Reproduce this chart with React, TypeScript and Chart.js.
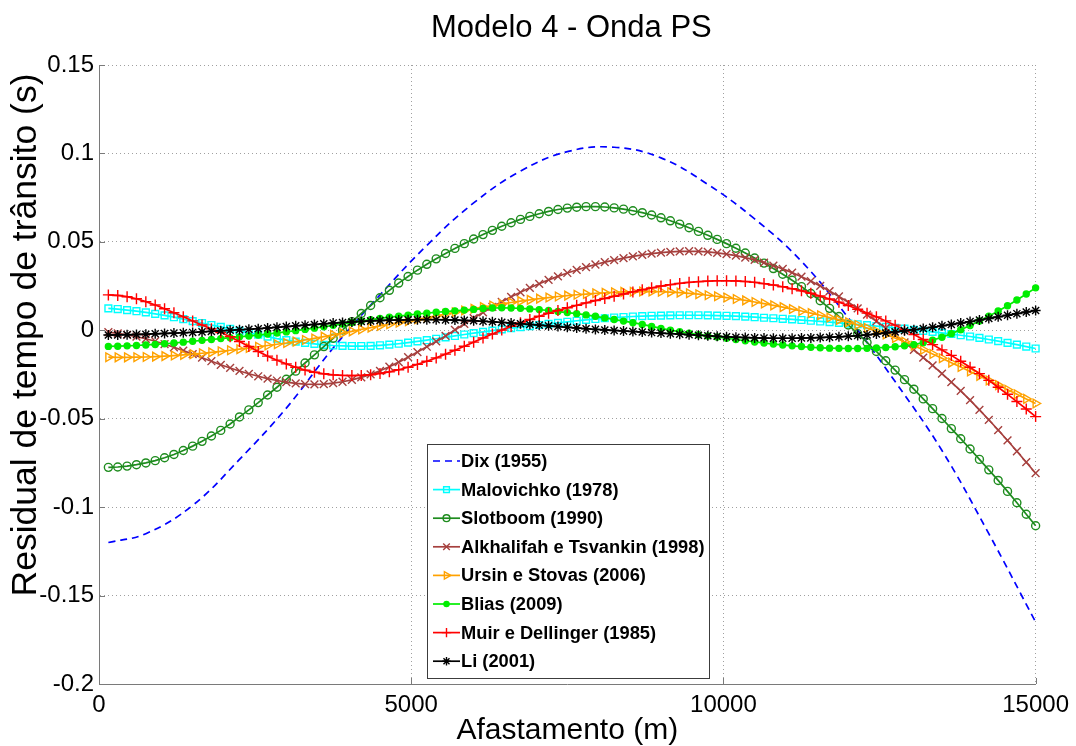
import React, { useEffect, useRef } from 'react';
import { Chart, registerables } from 'chart.js';

Chart.register(...registerables);

const TITLE = 'Modelo 4 - Onda PS';
const X_TITLE = 'Afastamento (m)';
const Y_TITLE = 'Residual de tempo de trânsito (s)';

const X_TICKS = [0, 5000, 10000, 15000];
const X_TICK_LABELS = ['0', '5000', '10000', '15000'];
const Y_TICKS = [-0.2, -0.15, -0.1, -0.05, 0, 0.05, 0.1, 0.15];
const Y_TICK_LABELS = ['-0.2', '-0.15', '-0.1', '-0.05', '0', '0.05', '0.1', '0.15'];

const LABELS = [
  'Dix (1955)',
  'Malovichko (1978)',
  'Slotboom (1990)',
  'Alkhalifah e Tsvankin (1998)',
  'Ursin e Stovas (2006)',
  'Blias (2009)',
  'Muir e Dellinger (1985)',
  'Li (2001)',
];

// offsets (m): 150, 300, ... 15000 (sampling grid of the marker curves)
const OFFSETS = Array.from({ length: 100 }, (_, i) => 150 * (i + 1));

const DIX_OFFSETS = [150, 750, 1500, 2250, 3000, 3750, 4500, 5250, 6000, 6750, 7500,
  8250, 9000, 9750, 10500, 11250, 12000, 12750, 13500, 14250, 15000];
const DIX = [-0.1200, -0.1150, -0.0990, -0.0730, -0.0440, -0.0100, 0.0200, 0.0480, 0.0720, 0.0900, 0.1010,
  0.1035, 0.0975, 0.0825, 0.0630, 0.0390, 0.0070, -0.0290, -0.0680, -0.1150, -0.1650];

const MALOVICHKO = [
  0.0124, 0.0120, 0.0114, 0.0108, 0.0101, 0.0093, 0.0084, 0.0074, 0.0063, 0.0052,
  0.0041, 0.0030, 0.0019, 0.0008, -0.0003, -0.0014, -0.0025, -0.0036, -0.0047, -0.0056,
  -0.0064, -0.0071, -0.0077, -0.0082, -0.0086, -0.0088, -0.0089, -0.0089, -0.0088, -0.0085,
  -0.0081, -0.0076, -0.0070, -0.0063, -0.0056, -0.0048, -0.0040, -0.0032, -0.0024, -0.0016,
  -0.0009, -0.0002, 0.0005, 0.0012, 0.0018, 0.0024, 0.0030, 0.0036, 0.0042, 0.0048,
  0.0054, 0.0059, 0.0064, 0.0068, 0.0072, 0.0075, 0.0078, 0.0080, 0.0082, 0.0083,
  0.0084, 0.0085, 0.0085, 0.0085, 0.0084, 0.0083, 0.0082, 0.0080, 0.0077, 0.0074,
  0.0071, 0.0068, 0.0065, 0.0062, 0.0058, 0.0054, 0.0050, 0.0046, 0.0042, 0.0038,
  0.0034, 0.0029, 0.0024, 0.0019, 0.0014, 0.0009, 0.0003, -0.0003, -0.0009, -0.0015,
  -0.0021, -0.0028, -0.0035, -0.0043, -0.0052, -0.0061, -0.0071, -0.0081, -0.0092, -0.0103,
];

const SLOTBOOM = [
  -0.0775, -0.0773, -0.0768, -0.0760, -0.0750, -0.0737, -0.0721, -0.0702, -0.0680, -0.0655,
  -0.0628, -0.0598, -0.0566, -0.0530, -0.0490, -0.0450, -0.0409, -0.0366, -0.0322, -0.0277,
  -0.0231, -0.0185, -0.0139, -0.0092, -0.0045, 0.0002, 0.0049, 0.0095, 0.0140, 0.0184,
  0.0226, 0.0267, 0.0304, 0.0340, 0.0373, 0.0404, 0.0434, 0.0463, 0.0490, 0.0516,
  0.0541, 0.0565, 0.0588, 0.0608, 0.0627, 0.0644, 0.0659, 0.0672, 0.0683, 0.0691,
  0.0696, 0.0699, 0.0699, 0.0697, 0.0692, 0.0685, 0.0676, 0.0665, 0.0652, 0.0636,
  0.0619, 0.0600, 0.0580, 0.0559, 0.0537, 0.0514, 0.0490, 0.0464, 0.0437, 0.0409,
  0.0380, 0.0349, 0.0317, 0.0283, 0.0247, 0.0208, 0.0167, 0.0124, 0.0078, 0.0030,
  -0.0019, -0.0069, -0.0120, -0.0172, -0.0225, -0.0279, -0.0333, -0.0388, -0.0443, -0.0499,
  -0.0556, -0.0613, -0.0671, -0.0730, -0.0789, -0.0849, -0.0911, -0.0975, -0.1040, -0.1105,
];

const ALKHALIFAH = [
  -0.0010, -0.0017, -0.0026, -0.0036, -0.0048, -0.0062, -0.0078, -0.0096, -0.0115, -0.0135,
  -0.0155, -0.0175, -0.0195, -0.0213, -0.0230, -0.0246, -0.0260, -0.0273, -0.0284, -0.0293,
  -0.0300, -0.0304, -0.0306, -0.0304, -0.0299, -0.0291, -0.0280, -0.0266, -0.0249, -0.0229,
  -0.0206, -0.0180, -0.0152, -0.0123, -0.0093, -0.0063, -0.0032, 0.0002, 0.0036, 0.0069,
  0.0101, 0.0132, 0.0161, 0.0189, 0.0215, 0.0240, 0.0263, 0.0285, 0.0305, 0.0324,
  0.0341, 0.0357, 0.0372, 0.0385, 0.0397, 0.0408, 0.0418, 0.0426, 0.0433, 0.0439,
  0.0443, 0.0446, 0.0447, 0.0446, 0.0443, 0.0438, 0.0431, 0.0422, 0.0411, 0.0398,
  0.0383, 0.0366, 0.0347, 0.0326, 0.0303, 0.0278, 0.0251, 0.0222, 0.0191, 0.0158,
  0.0124, 0.0088, 0.0051, 0.0012, -0.0028, -0.0069, -0.0111, -0.0154, -0.0198, -0.0245,
  -0.0293, -0.0343, -0.0395, -0.0450, -0.0506, -0.0564, -0.0623, -0.0684, -0.0746, -0.0808,
];

const URSIN = [
  -0.0152, -0.0153, -0.0153, -0.0152, -0.0151, -0.0149, -0.0146, -0.0143, -0.0139, -0.0135,
  -0.0130, -0.0125, -0.0119, -0.0113, -0.0107, -0.0100, -0.0093, -0.0086, -0.0079, -0.0072,
  -0.0064, -0.0055, -0.0046, -0.0036, -0.0026, -0.0016, -0.0006, 0.0005, 0.0015, 0.0025,
  0.0034, 0.0043, 0.0052, 0.0062, 0.0072, 0.0082, 0.0092, 0.0102, 0.0112, 0.0122,
  0.0131, 0.0140, 0.0149, 0.0157, 0.0165, 0.0172, 0.0179, 0.0185, 0.0191, 0.0196,
  0.0201, 0.0205, 0.0209, 0.0212, 0.0215, 0.0217, 0.0218, 0.0219, 0.0219, 0.0218,
  0.0216, 0.0213, 0.0209, 0.0204, 0.0198, 0.0192, 0.0185, 0.0177, 0.0169, 0.0160,
  0.0151, 0.0141, 0.0131, 0.0120, 0.0109, 0.0097, 0.0085, 0.0072, 0.0059, 0.0045,
  0.0030, 0.0013, -0.0005, -0.0024, -0.0044, -0.0065, -0.0087, -0.0110, -0.0134, -0.0158,
  -0.0183, -0.0208, -0.0233, -0.0258, -0.0284, -0.0310, -0.0336, -0.0362, -0.0388, -0.0414,
];

const BLIAS = [
  -0.0091, -0.0090, -0.0088, -0.0086, -0.0083, -0.0080, -0.0076, -0.0072, -0.0067, -0.0062,
  -0.0057, -0.0052, -0.0047, -0.0042, -0.0037, -0.0032, -0.0027, -0.0021, -0.0015, -0.0009,
  -0.0002, 0.0005, 0.0012, 0.0020, 0.0028, 0.0036, 0.0044, 0.0052, 0.0060, 0.0067,
  0.0074, 0.0080, 0.0086, 0.0092, 0.0097, 0.0102, 0.0106, 0.0110, 0.0114, 0.0118,
  0.0123, 0.0126, 0.0127, 0.0126, 0.0124, 0.0121, 0.0117, 0.0112, 0.0106, 0.0100,
  0.0094, 0.0087, 0.0079, 0.0070, 0.0061, 0.0052, 0.0043, 0.0033, 0.0022, 0.0011,
  0.0001, -0.0008, -0.0017, -0.0025, -0.0032, -0.0038, -0.0045, -0.0052, -0.0059, -0.0066,
  -0.0072, -0.0078, -0.0083, -0.0088, -0.0092, -0.0096, -0.0099, -0.0101, -0.0102, -0.0103,
  -0.0103, -0.0102, -0.0100, -0.0097, -0.0093, -0.0088, -0.0081, -0.0070, -0.0056, -0.0039,
  -0.0019, 0.0003, 0.0027, 0.0053, 0.0080, 0.0109, 0.0139, 0.0171, 0.0205, 0.0240,
];

const MUIR = [
  0.0200, 0.0197, 0.0190, 0.0178, 0.0162, 0.0143, 0.0122, 0.0099, 0.0076, 0.0053,
  0.0030, 0.0008, -0.0013, -0.0036, -0.0063, -0.0092, -0.0120, -0.0146, -0.0169, -0.0190,
  -0.0209, -0.0225, -0.0237, -0.0246, -0.0252, -0.0255, -0.0256, -0.0255, -0.0251, -0.0244,
  -0.0235, -0.0223, -0.0209, -0.0193, -0.0175, -0.0156, -0.0135, -0.0113, -0.0090, -0.0067,
  -0.0044, -0.0021, 0.0001, 0.0022, 0.0042, 0.0061, 0.0079, 0.0096, 0.0112, 0.0127,
  0.0141, 0.0155, 0.0168, 0.0180, 0.0192, 0.0205, 0.0217, 0.0229, 0.0240, 0.0250,
  0.0258, 0.0265, 0.0271, 0.0275, 0.0278, 0.0280, 0.0280, 0.0279, 0.0276, 0.0271,
  0.0264, 0.0256, 0.0246, 0.0235, 0.0223, 0.0209, 0.0194, 0.0177, 0.0159, 0.0140,
  0.0119, 0.0097, 0.0076, 0.0053, 0.0029, 0.0003, -0.0024, -0.0052, -0.0081, -0.0111,
  -0.0142, -0.0175, -0.0209, -0.0245, -0.0283, -0.0322, -0.0362, -0.0403, -0.0445, -0.0488,
];

const LI = [
  -0.0027, -0.0026, -0.0025, -0.0024, -0.0022, -0.0020, -0.0018, -0.0016, -0.0014, -0.0012,
  -0.0009, -0.0006, -0.0003, 0.0000, 0.0003, 0.0006, 0.0009, 0.0013, 0.0017, 0.0021,
  0.0025, 0.0029, 0.0033, 0.0037, 0.0041, 0.0044, 0.0047, 0.0050, 0.0053, 0.0055,
  0.0057, 0.0058, 0.0059, 0.0060, 0.0060, 0.0060, 0.0059, 0.0058, 0.0056, 0.0054,
  0.0051, 0.0048, 0.0045, 0.0041, 0.0037, 0.0033, 0.0029, 0.0025, 0.0021, 0.0017,
  0.0013, 0.0009, 0.0005, 0.0002, -0.0001, -0.0004, -0.0007, -0.0010, -0.0013, -0.0016,
  -0.0019, -0.0022, -0.0025, -0.0028, -0.0031, -0.0034, -0.0037, -0.0039, -0.0041, -0.0043,
  -0.0044, -0.0045, -0.0045, -0.0045, -0.0044, -0.0043, -0.0041, -0.0039, -0.0037, -0.0034,
  -0.0030, -0.0026, -0.0021, -0.0015, -0.0009, -0.0003, 0.0003, 0.0010, 0.0017, 0.0025,
  0.0033, 0.0041, 0.0049, 0.0058, 0.0067, 0.0076, 0.0085, 0.0094, 0.0103, 0.0112,
];

const SERIES_X = [DIX_OFFSETS, OFFSETS, OFFSETS, OFFSETS, OFFSETS, OFFSETS, OFFSETS, OFFSETS];
const SERIES_Y = [DIX, MALOVICHKO, SLOTBOOM, ALKHALIFAH, URSIN, BLIAS, MUIR, LI];

const STYLES: any[] = [
  { color: '#0000ff', dash: [7, 5], marker: null, radius: 0, filled: false },
  { color: '#00ffff', marker: 'rect', radius: 4.8, filled: false },
  { color: '#1e8c1e', marker: 'circle', radius: 4, filled: false },
  { color: '#a6403e', marker: 'crossRot', radius: 5.5, filled: false },
  { color: '#ffa200', marker: 'triangle', radius: 5, filled: false, rotation: 90 },
  { color: '#00ee00', marker: 'circle', radius: 3, filled: true },
  { color: '#ff0000', marker: 'cross', radius: 5.5, filled: false },
  { color: '#000000', marker: 'star', radius: 5, filled: false },
];

const FONT = "'Liberation Sans', Arial, Helvetica, sans-serif";

function drawMarker(ctx: any, st: any, x: number, y: number) {
  const r = st.radius;
  ctx.save();
  ctx.setLineDash([]);
  ctx.strokeStyle = st.color;
  ctx.fillStyle = st.color;
  ctx.lineWidth = 1.4;
  ctx.beginPath();
  if (st.marker === 'rect') {
    const s = r * Math.SQRT1_2;
    ctx.rect(x - s, y - s, 2 * s, 2 * s);
    ctx.stroke();
  } else if (st.marker === 'circle') {
    ctx.arc(x, y, r, 0, Math.PI * 2);
    if (st.filled) ctx.fill();
    ctx.stroke();
  } else if (st.marker === 'triangle') {
    ctx.moveTo(x + r, y);
    ctx.lineTo(x - r / 2, y - r * 0.866);
    ctx.lineTo(x - r / 2, y + r * 0.866);
    ctx.closePath();
    ctx.stroke();
  } else {
    const d = r * Math.SQRT1_2;
    if (st.marker === 'cross' || st.marker === 'star') {
      ctx.moveTo(x - r, y); ctx.lineTo(x + r, y);
      ctx.moveTo(x, y - r); ctx.lineTo(x, y + r);
    }
    if (st.marker === 'crossRot' || st.marker === 'star') {
      ctx.moveTo(x - d, y - d); ctx.lineTo(x + d, y + d);
      ctx.moveTo(x + d, y - d); ctx.lineTo(x - d, y + d);
    }
    ctx.stroke();
  }
  ctx.restore();
}

const overlayPlugin = {
  id: 'overlay',
  afterDraw(chart: any) {
    const { ctx, chartArea: ca, scales } = chart;
    ctx.save();
    // inward tick marks on left and bottom axes
    ctx.strokeStyle = '#7a7a7a';
    ctx.lineWidth = 1;
    ctx.setLineDash([]);
    ctx.beginPath();
    Y_TICKS.forEach((v) => {
      const y = Math.round(scales.y.getPixelForValue(v)) + 0.5;
      ctx.moveTo(ca.left, y);
      ctx.lineTo(ca.left + 6, y);
    });
    X_TICKS.forEach((v) => {
      const x = Math.round(scales.x.getPixelForValue(v)) + 0.5;
      ctx.moveTo(x, ca.bottom);
      ctx.lineTo(x, ca.bottom - 6);
    });
    ctx.stroke();

    // title
    ctx.fillStyle = '#000';
    ctx.font = `31px ${FONT}`;
    ctx.textAlign = 'center';
    ctx.textBaseline = 'middle';
    ctx.fillText(TITLE, (ca.left + ca.right) / 2 + 4, 28);

    // axis titles
    ctx.font = `30px ${FONT}`;
    ctx.fillText(X_TITLE, (ca.left + ca.right) / 2, 731);
    ctx.save();
    ctx.translate(26, 335);
    ctx.rotate(-Math.PI / 2);
    ctx.font = `35.5px ${FONT}`;
    ctx.fillText(Y_TITLE, 0, 0);
    ctx.restore();

    // legend box
    const lx = ca.left + 328;
    const ly = ca.top + 379;
    const lw = 282;
    const lh = 234;
    ctx.fillStyle = '#ffffff';
    ctx.fillRect(lx, ly, lw, lh);
    ctx.strokeStyle = '#3c3c3c';
    ctx.lineWidth = 1;
    ctx.strokeRect(lx + 0.5, ly + 0.5, lw, lh);
    const rowH = 28.6;
    LABELS.forEach((label, i) => {
      const st = STYLES[i];
      const cy = ly + 17 + i * rowH;
      ctx.save();
      ctx.strokeStyle = st.color;
      ctx.lineWidth = 1.7;
      ctx.setLineDash(st.dash || []);
      ctx.beginPath();
      ctx.moveTo(lx + 6, cy);
      ctx.lineTo(lx + 33, cy);
      ctx.stroke();
      ctx.restore();
      if (st.marker) drawMarker(ctx, { ...st, radius: st.radius * 0.85 }, lx + 19.5, cy);
      ctx.fillStyle = '#000';
      ctx.font = `bold 18.3px ${FONT}`;
      ctx.textAlign = 'left';
      ctx.textBaseline = 'middle';
      ctx.fillText(label, lx + 34, cy + 1);
    });
    ctx.restore();
  },
};

export default function App() {
  const ref = useRef<HTMLCanvasElement | null>(null);

  useEffect(() => {
    const canvas = ref.current;
    if (!canvas) return;
    const datasets = LABELS.map((label, i) => {
      const st = STYLES[i];
      const xs = SERIES_X[i];
      const ys = SERIES_Y[i];
      return {
        label,
        data: xs.map((x: number, j: number) => ({ x, y: ys[j] })),
        borderColor: st.color,
        backgroundColor: st.color,
        borderWidth: 1.7,
        borderDash: st.dash || [],
        tension: i === 0 ? 0.4 : 0,
        pointStyle: st.marker || false,
        pointRadius: st.marker ? st.radius : 0,
        pointHoverRadius: st.marker ? st.radius : 0,
        pointBorderWidth: 1.4,
        pointBorderColor: st.color,
        pointBackgroundColor: st.filled ? st.color : 'rgba(0,0,0,0)',
        pointRotation: st.rotation || 0,
        clip: false,
        order: LABELS.length - i,
      };
    });

    const chart = new Chart(canvas, {
      type: 'line',
      data: { datasets },
      plugins: [overlayPlugin],
      options: {
        animation: false,
        responsive: false,
        devicePixelRatio: 1,
        layout: { padding: { top: 65, right: 37, left: 0, bottom: 0 } },
        plugins: {
          legend: { display: false },
          title: { display: false },
          tooltip: { enabled: false },
        },
        scales: {
          x: {
            type: 'linear',
            min: 0,
            max: 15000,
            afterBuildTicks: (s: any) => { s.ticks = X_TICKS.map((v) => ({ value: v })); },
            afterFit: (s: any) => { s.height = 62; },
            ticks: {
              autoSkip: false,
              maxRotation: 0,
              padding: 7,
              color: '#000',
              font: { family: FONT, size: 24 },
              callback: (v: any) => { const k = X_TICKS.indexOf(Number(v)); return k >= 0 ? X_TICK_LABELS[k] : ''; },
            },
            grid: { color: '#a0a0a0', lineWidth: 1, drawTicks: false, borderDash: [1, 3] },
            border: { display: true, color: '#7a7a7a', width: 1, dash: [1, 3] },
            title: { display: false },
          },
          y: {
            type: 'linear',
            min: -0.2,
            max: 0.15,
            afterBuildTicks: (s: any) => { s.ticks = Y_TICKS.map((v) => ({ value: v })); },
            afterFit: (s: any) => { s.width = 99; },
            ticks: {
              autoSkip: false,
              padding: 5,
              color: '#000',
              font: { family: FONT, size: 24 },
              callback: (v: any) => {
                const k = Y_TICKS.findIndex((t) => Math.abs(t - Number(v)) < 1e-9);
                return k >= 0 ? Y_TICK_LABELS[k] : '';
              },
            },
            grid: { color: '#a0a0a0', lineWidth: 1, drawTicks: false, borderDash: [1, 3] },
            border: { display: true, color: '#7a7a7a', width: 1, dash: [1, 3] },
            title: { display: false },
          },
        },
      } as any,
    });
    return () => chart.destroy();
  }, []);

  return (
    <div style={{ position: 'absolute', left: 0, top: 0, width: 1076, height: 746, background: '#fff' }}>
      <canvas ref={ref} width={1076} height={746} style={{ display: 'block' }} />
    </div>
  );
}
